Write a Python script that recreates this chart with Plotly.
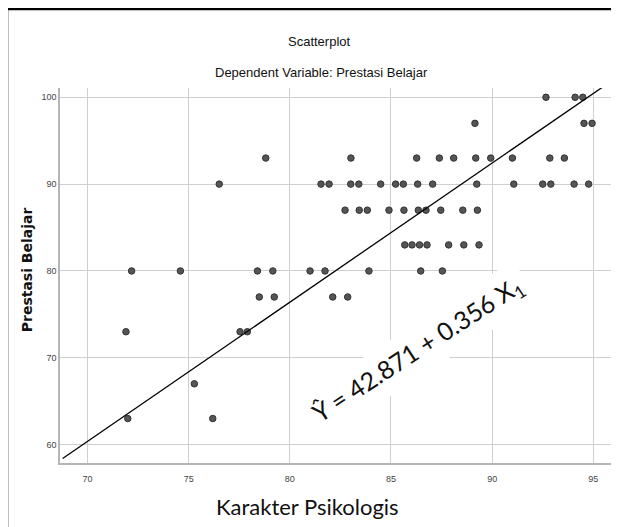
import plotly.graph_objects as go

# Data
x_vals = [
    92.66, 94.10, 94.48,                                   # 100
    89.15, 94.54, 94.94,                                   # 97
    78.81, 83.02, 86.27, 87.39, 88.10, 89.19, 89.93, 91.00, 92.85, 93.57,   # 93
    76.51, 81.54, 81.94, 83.01, 83.41, 84.49, 85.23, 85.61, 86.32, 87.06,
    89.24, 91.07, 92.50, 92.90, 94.05, 94.77,              # 90
    82.73, 83.43, 83.83, 84.90, 85.64, 86.35, 86.73, 87.46, 88.55, 89.27,   # 87
    85.68, 86.04, 86.41, 86.78, 87.85, 88.60, 89.35,       # 83
    72.18, 74.59, 78.40, 79.16, 81.00, 81.74, 83.91, 86.47, 87.54,  # 80
    78.49, 79.23, 82.12, 82.86,                            # 77
    71.90, 77.54, 77.90,                                   # 73
    75.28,                                                 # 67
    71.99, 76.19,                                          # 63
]
y_vals = (
    [100] * 3 + [97] * 3 + [93] * 10 + [90] * 16 + [87] * 10 + [83] * 7
    + [80] * 9 + [77] * 4 + [73] * 3 + [67] * 1 + [63] * 2
)

line_x = [68.77, 95.6]
line_y = [58.4, 101.4]

x_ticks = [70, 75, 80, 85, 90, 95]
y_ticks = [60, 70, 80, 90, 100]

title_text = "Scatterplot"
subtitle_text = "Dependent Variable: Prestasi Belajar"
x_title = "Karakter Psikologis"
y_title = "Prestasi Belajar"
equation_text = "Ŷ = 42.871 + 0.356 X<sub>1</sub>"
equation_pos = (86.34, 70.9)

narrow = "Liberation Sans Narrow, Arial Narrow, Liberation Sans, sans-serif"

fig = go.Figure()
fig.add_trace(go.Scatter(
    x=x_vals, y=y_vals, mode="markers",
    marker=dict(size=6.5, color="#555555", line=dict(color="#333333", width=1)),
    showlegend=False, hoverinfo="skip",
))
fig.add_trace(go.Scatter(
    x=line_x, y=line_y, mode="lines",
    line=dict(color="black", width=1.3),
    showlegend=False, hoverinfo="skip", cliponaxis=False,
))

# the page body adds an 8px offset, so the figure is 8px smaller on each axis
fig.update_layout(
    width=611, height=519,
    margin=dict(l=52, r=0, t=80, b=64, autoexpand=False),
    paper_bgcolor="white", plot_bgcolor="white",
    font=dict(family=narrow, color="#333"),
    xaxis=dict(
        range=[68.64, 96.27], tickvals=x_ticks, showgrid=True,
        gridcolor="#cfcfcf", gridwidth=1.2, zeroline=False,
        showline=True, linecolor="#b5b5b5", linewidth=1.5,
        tickfont=dict(size=9, color="#444", family=narrow), ticks="",
        ticklabelstandoff=6,
    ),
    yaxis=dict(
        range=[57.88, 101.07], tickvals=y_ticks, showgrid=True,
        gridcolor="#cfcfcf", gridwidth=1.2, zeroline=False,
        showline=True, linecolor="#b5b5b5", linewidth=1.5,
        tickfont=dict(size=9, color="#444", family=narrow), ticks="",
    ),
)

annotations = [
    dict(text=title_text, x=0.465, y=1.124, xref="paper", yref="paper",
         showarrow=False, font=dict(size=13, family=narrow, color="#111"),
         xanchor="center", yanchor="middle"),
    dict(text=subtitle_text, x=0.468, y=1.040, xref="paper", yref="paper",
         showarrow=False, font=dict(size=13, family=narrow, color="#111"),
         xanchor="center", yanchor="middle"),
    dict(text="<b>" + y_title + "</b>", x=-0.0590, y=0.514, xref="paper", yref="paper",
         showarrow=False, textangle=-90,
         font=dict(size=14, family="DejaVu Sans, sans-serif", color="#111"),
         xanchor="center", yanchor="middle"),
    dict(text=x_title, x=0.4428, y=-0.1164, xref="paper", yref="paper",
         showarrow=False, font=dict(size=22, family="Lato, sans-serif", color="#111"),
         xanchor="center", yanchor="middle"),
    dict(text=equation_text, x=equation_pos[0], y=equation_pos[1], xref="x", yref="y",
         showarrow=False, textangle=-33, bgcolor="white", borderpad=6,
         font=dict(size=25, family="Lato, sans-serif", color="#111"),
         xanchor="center", yanchor="middle"),
]
fig.update_layout(annotations=annotations)

# outer frame (left and top edges as seen in the reference)
fig.add_shape(type="line", xref="paper", yref="paper",
              x0=-0.0948, x1=-0.0948, y0=-0.2, y1=1.2105,
              line=dict(color="black", width=2.5))
fig.add_shape(type="line", xref="paper", yref="paper",
              x0=-0.0948, x1=1.02, y0=1.2105, y1=1.2105,
              line=dict(color="black", width=2.5))

fig.write_html("out.html")
